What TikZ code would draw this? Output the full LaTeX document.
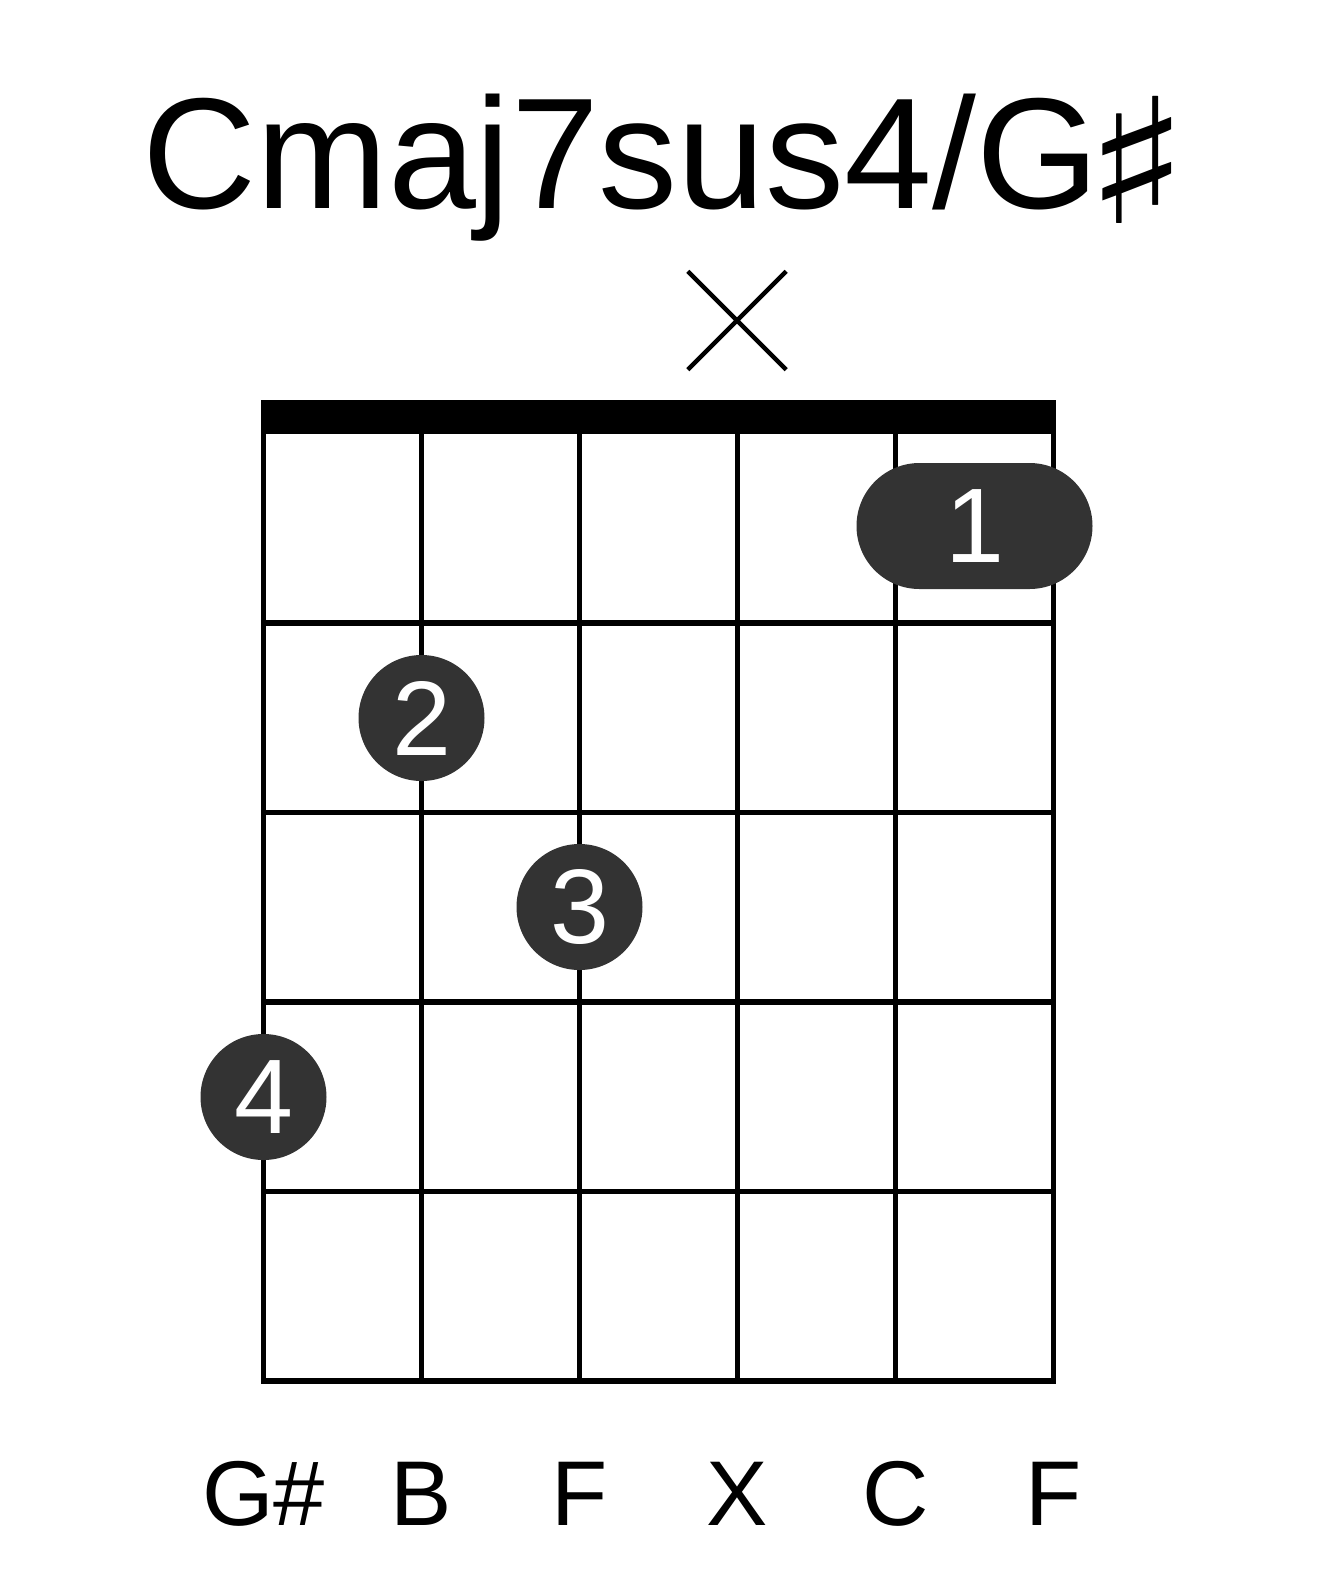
\documentclass[tikz,border=0pt]{standalone}
\usepackage{fontspec}
\setmainfont{Liberation Sans}
\newfontfamily\symfont{DejaVu Sans Bold}
\usetikzlibrary{shapes.misc}
\definecolor{dotgray}{HTML}{333333}
\begin{document}
\begin{tikzpicture}[x=0.5pt,y=-0.5pt,
  gridline/.style={line width=2.6pt},
  fingerdot/.style={circle, fill=dotgray, inner sep=0pt, minimum size=63pt, text=white, font=\fontsize{53}{53}\selectfont},
  barre/.style={rounded rectangle, fill=dotgray, inner sep=0pt, minimum width=118pt, minimum height=63pt, text=white, font=\fontsize{53}{53}\selectfont},
  notelabel/.style={anchor=base, inner sep=0pt, font=\fontsize{46}{46}\selectfont},
  mutemark/.style={cross out, draw, line width=2.2pt, inner sep=0pt, minimum size=47pt}]
\useasboundingbox (0,0) rectangle (1317,1581);
% title
\node[anchor=base west, inner sep=0pt, font=\fontsize{79}{79}\selectfont] (title) at (142,208) {Cmaj7sus4/G};
\node[anchor=base, inner sep=0pt, xscale=1.25, font=\fontsize{87}{87}\symfont] (sharp) at (1137,223) {♯};
% mute
\node[mutemark] (mute) at (737,320.5) {};
% nut
\fill (261,400) rectangle (1056,433);
% frame and grid
\draw[gridline] (263.5,431) rectangle (1053.5,1381);
\foreach \x in {421.5,579.5,737.5,895.5} \draw[gridline] (\x,431) -- (\x,1381);
\foreach \y in {623,812.5,1002,1191.5} \draw[gridline] (263.5,\y) -- (1053.5,\y);
% fingers
\node[barre] (f1) at (974.5,526) {1};
\node[fingerdot] (f2) at (421.5,718) {2};
\node[fingerdot] (f3) at (579.5,907) {3};
\node[fingerdot] (f4) at (263.5,1097) {4};
% note labels
\node[notelabel] (n1) at (263.5,1525) {G\#};
\node[notelabel] (n2) at (421.5,1525) {B};
\node[notelabel] (n3) at (579.5,1525) {F};
\node[notelabel] (n4) at (737.5,1525) {X};
\node[notelabel] (n5) at (895.5,1525) {C};
\node[notelabel] (n6) at (1053.5,1525) {F};
\end{tikzpicture}
\end{document}
